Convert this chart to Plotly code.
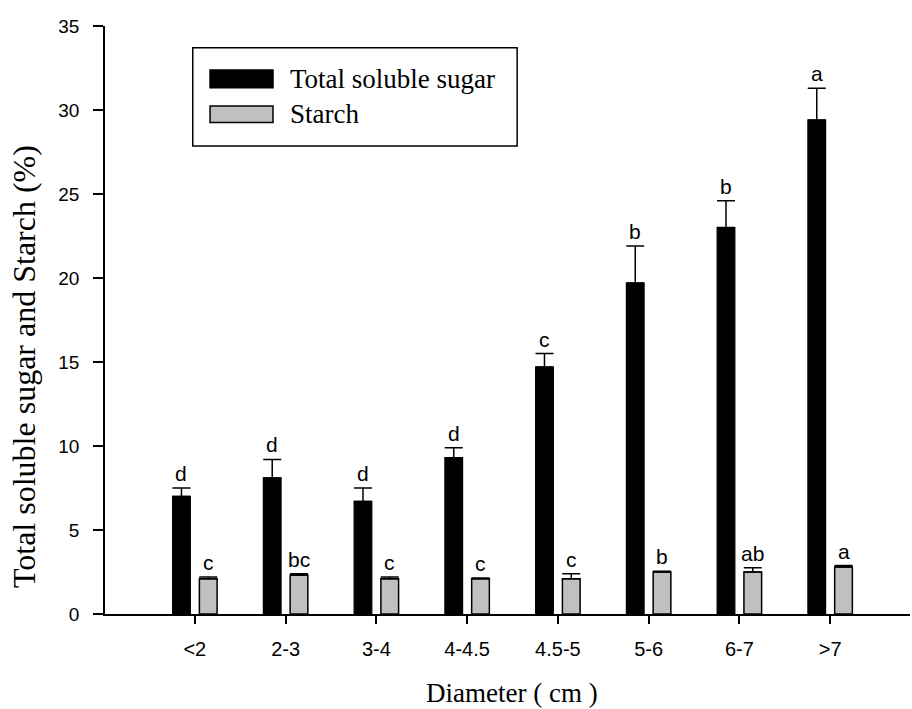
import plotly.graph_objects as go

categories = ["<2", "2-3", "3-4", "4-4.5", "4.5-5", "5-6", "6-7", ">7"]
sugar = [7.0, 8.1, 6.7, 9.3, 14.7, 19.7, 23.0, 29.4]
sugar_err = [0.5, 1.1, 0.8, 0.6, 0.8, 2.2, 1.6, 1.9]
starch = [2.1, 2.3, 2.1, 2.1, 2.1, 2.5, 2.5, 2.8]
starch_err = [0.1, 0.1, 0.1, 0.05, 0.3, 0.05, 0.25, 0.08]
sugar_letters = ["d", "d", "d", "d", "c", "b", "b", "a"]
starch_letters = ["c", "bc", "c", "c", "c", "b", "ab", "a"]
y_ticks = [0, 5, 10, 15, 20, 25, 30, 35]

xs = list(range(len(categories)))
BW = 0.195
fig = go.Figure()
fig.add_trace(go.Bar(
    x=xs, y=sugar, width=BW, offset=-0.245, name="Total soluble sugar",
    marker=dict(color="black", line=dict(color="black", width=1.2)),
    error_y=dict(type="data", array=sugar_err, arrayminus=[0] * len(xs), symmetric=False,
                 color="black", thickness=1.5, width=9),
))
fig.add_trace(go.Bar(
    x=xs, y=starch, width=BW, offset=0.05, name="Starch",
    marker=dict(color="#c0c0c0", line=dict(color="black", width=1.5)),
    error_y=dict(type="data", array=starch_err, arrayminus=[0] * len(xs), symmetric=False,
                 color="black", thickness=1.5, width=9),
))

sans = "Liberation Sans, Arial"
annotations = []
for i in xs:
    annotations.append(dict(x=i - 0.245 + BW / 2, y=sugar[i] + sugar_err[i], text=sugar_letters[i],
                            xref="x", yref="y", showarrow=False, yanchor="bottom", yshift=1,
                            font=dict(family=sans, size=21, color="black")))
    annotations.append(dict(x=i + 0.05 + BW / 2, y=starch[i] + starch_err[i], text=starch_letters[i],
                            xref="x", yref="y", showarrow=False, yanchor="bottom", yshift=1,
                            font=dict(family=sans, size=21, color="black")))

serif = "Liberation Serif, Times New Roman, serif"
# axis titles
annotations.append(dict(x=0.505, y=-0.105, xref="paper", yref="paper", showarrow=False,
                        text="Diameter ( cm )", yanchor="top", xanchor="center",
                        font=dict(family=serif, size=27, color="black")))
annotations.append(dict(x=-0.1006, y=0.42, xref="paper", yref="paper", showarrow=False,
                        text="Total soluble sugar and Starch (%)", textangle=-90,
                        xanchor="center", yanchor="middle",
                        font=dict(family=serif, size=32, color="black")))
# legend texts
annotations.append(dict(x=0.227, y=0.91, xref="paper", yref="paper", showarrow=False,
                        text="Total soluble sugar", xanchor="left", yanchor="middle",
                        font=dict(family=serif, size=27, color="black")))
annotations.append(dict(x=0.227, y=0.85, xref="paper", yref="paper", showarrow=False,
                        text="Starch", xanchor="left", yanchor="middle",
                        font=dict(family=serif, size=27, color="black")))

shapes = [
    dict(type="rect", xref="paper", yref="paper", x0=0.109, x1=0.512, y0=0.796, y1=0.963,
         line=dict(color="black", width=1.5), fillcolor="rgba(0,0,0,0)"),
    dict(type="rect", xref="paper", yref="paper", x0=0.1305, x1=0.2087, y0=0.895, y1=0.925,
         line=dict(color="black", width=1.5), fillcolor="black"),
    dict(type="rect", xref="paper", yref="paper", x0=0.1305, x1=0.2087, y0=0.836, y1=0.864,
         line=dict(color="black", width=1.5), fillcolor="#c0c0c0"),
]

fig.update_layout(
    width=912, height=709,
    margin=dict(l=105, r=2, t=26, b=95),
    paper_bgcolor="white", plot_bgcolor="white",
    showlegend=False,
    annotations=annotations, shapes=shapes,
    font=dict(family=sans, color="black"),
    xaxis=dict(range=[-0.99, 7.88], tickmode="array", tickvals=xs, ticktext=categories,
               showline=True, linecolor="black", linewidth=1.5, ticks="outside", ticklen=8,
               tickwidth=1.5, tickcolor="black", showgrid=False, zeroline=False,
               tickfont=dict(family=sans, size=20, color="black"),
               ticklabelstandoff=8),
    yaxis=dict(range=[0, 35], tickmode="array", tickvals=y_ticks,
               showline=True, linecolor="black", linewidth=1.5, ticks="outside", ticklen=10,
               tickwidth=1.5, tickcolor="black", showgrid=False, zeroline=False,
               tickfont=dict(family=sans, size=19, color="black"),
               ticklabelstandoff=10),
)

fig.write_html("out.html")
